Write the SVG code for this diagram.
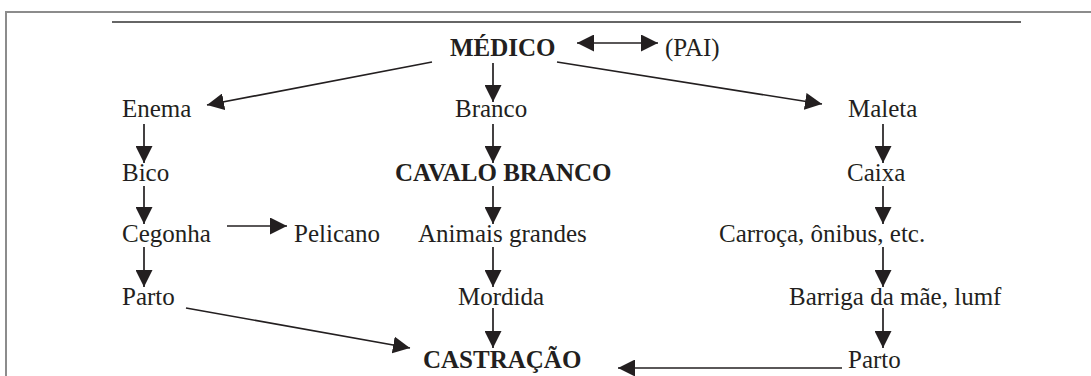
<svg xmlns="http://www.w3.org/2000/svg" width="1091" height="376" viewBox="0 0 1091 376">
<style>
.t{font-family:"Liberation Serif","Times New Roman",serif;font-size:25px;fill:#231f20}
.b{font-weight:bold}
.c{stroke:#231f20;stroke-width:1.7;fill:none}
.a{marker-end:url(#ah)}
</style>
<defs>
<marker id="ah" markerUnits="userSpaceOnUse" markerWidth="17" markerHeight="17" refX="17" refY="8.5" orient="auto-start-reverse" viewBox="0 0 17 17">
<path d="M0,0 L17,8.5 L0,17 z" fill="#231f20"/>
</marker>
</defs>
<rect width="1091" height="376" fill="#fff"/>
<g id="frame">
<path d="M6,376 V12 H1091" stroke="#8c8c8c" stroke-width="2" fill="none"/>
<line x1="112" y1="22" x2="1021" y2="22" stroke="#333" stroke-width="1.3"/>
</g>
<g id="connectors">
<line class="c a" x1="577" y1="43" x2="658" y2="43" marker-start="url(#ah)"/>
<line class="c a" x1="432" y1="62" x2="207" y2="105"/>
<line class="c a" x1="557" y1="62" x2="822" y2="104"/>
<line class="c a" x1="493" y1="63" x2="493" y2="102"/>
<line class="c a" x1="493" y1="124" x2="493" y2="163"/>
<line class="c a" x1="493" y1="186" x2="493" y2="224"/>
<line class="c a" x1="493" y1="247" x2="493" y2="287"/>
<line class="c a" x1="493" y1="308" x2="493" y2="348"/>
<line class="c a" x1="144" y1="124" x2="144" y2="163"/>
<line class="c a" x1="144" y1="186" x2="144" y2="224"/>
<line class="c a" x1="144" y1="247" x2="144" y2="287"/>
<line class="c a" x1="883" y1="124" x2="883" y2="163"/>
<line class="c a" x1="883" y1="186" x2="883" y2="224"/>
<line class="c a" x1="883" y1="247" x2="883" y2="287"/>
<line class="c a" x1="883" y1="308" x2="883" y2="348"/>
<line class="c a" x1="227" y1="226" x2="287" y2="226"/>
<line class="c a" x1="186" y1="308" x2="410" y2="348"/>
<line class="c a" x1="842" y1="368" x2="618" y2="368"/>
</g>
<g id="medico"><text class="t b" x="450" y="56">MÉDICO</text></g>
<g id="pai"><text class="t" x="665" y="56">(PAI)</text></g>
<g id="enema"><text class="t" x="122" y="117">Enema</text></g>
<g id="branco"><text class="t" x="455" y="117">Branco</text></g>
<g id="maleta"><text class="t" x="848" y="117">Maleta</text></g>
<g id="bico"><text class="t" x="122" y="181">Bico</text></g>
<g id="cavalo-branco"><text class="t b" x="395" y="181">CAVALO BRANCO</text></g>
<g id="caixa"><text class="t" x="847" y="181">Caixa</text></g>
<g id="cegonha"><text class="t" x="122" y="242">Cegonha</text></g>
<g id="pelicano"><text class="t" x="294" y="242">Pelicano</text></g>
<g id="animais-grandes"><text class="t" x="418" y="242">Animais grandes</text></g>
<g id="carroca"><text class="t" x="719" y="242">Carroça, ônibus, etc.</text></g>
<g id="parto-left"><text class="t" x="122" y="305">Parto</text></g>
<g id="mordida"><text class="t" x="458" y="305">Mordida</text></g>
<g id="barriga"><text class="t" x="789" y="305">Barriga da mãe, lumf</text></g>
<g id="castracao"><text class="t b" x="423" y="368">CASTRAÇÃO</text></g>
<g id="parto-right"><text class="t" x="848" y="368">Parto</text></g>
</svg>
